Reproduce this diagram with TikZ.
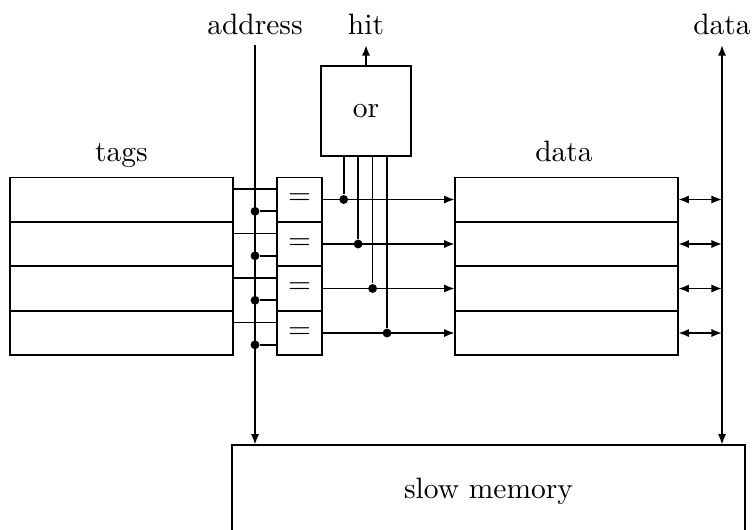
\documentclass[tikz,border=0pt]{standalone}
\usepackage{tikz}
\usetikzlibrary{positioning,arrows.meta}

\begin{document}
\begin{tikzpicture}[
    x=0.01192cm, y=0.01192cm,
    semithick,
    box/.style={draw, semithick, minimum height=0.5233cm, inner sep=0pt, outer sep=0.1pt},
    rowbox/.style={box, minimum width=2.658cm},
    cmpbox/.style={box, minimum width=0.536cm},
    dot/.style={circle, fill, inner sep=0pt, minimum size=3pt},
    arr/.style={-{Latex[length=3.6pt, width=2.8pt]}},
    biarr/.style={{Latex[length=3.6pt, width=2.8pt]}-{Latex[length=3.6pt, width=2.8pt]}},
    node distance=0pt
]

\path[use as bounding box, clip] (0,0) rectangle (752,529);

% tag store
\node[rowbox] (t1) at (121.5,329.5) {};
\node[rowbox, below=of t1] (t2) {};
\node[rowbox, below=of t2] (t3) {};
\node[rowbox, below=of t3] (t4) {};
\node[anchor=base] (tagslbl) at (121.5,368) {tags};

% comparators
\node[cmpbox] (c1) at (299.5,329.5) {$=$};
\node[cmpbox, below=of c1] (c2) {$=$};
\node[cmpbox, below=of c2] (c3) {$=$};
\node[cmpbox, below=of c3] (c4) {$=$};

% data store
\node[rowbox] (d1) at (566.5,329.5) {};
\node[rowbox, below=of d1] (d2) {};
\node[rowbox, below=of d2] (d3) {};
\node[rowbox, below=of d3] (d4) {};
\node[anchor=base] (datalbl) at (564,368) {data};

\node[box, minimum size=1.073cm] (orbox) at (366,418) {or};
\node[box, minimum width=6.115cm, minimum height=1.097cm] (mem) at (488.5,38) {slow memory};

% signals at the top
\node[anchor=base] (addrlbl) at (255,495) {address};
\node[anchor=base] (hitlbl) at (366,495) {hit};
\node[anchor=base] (buslbl) at (722,495) {data};

\draw[arr] (orbox) -- (hitlbl);
\draw[arr] (addrlbl) -- (addrlbl |- mem.north);
\draw[biarr] (buslbl |- mem.north) -- (buslbl);

% tag -> comparator
\draw ([yshift=3.6pt]t1.east) -- ([yshift=3.6pt]c1.west);
\draw ([yshift=3.6pt]t2.east) -- ([yshift=3.6pt]c2.west);
\draw ([yshift=3.6pt]t3.east) -- ([yshift=3.6pt]c3.west);
\draw ([yshift=3.6pt]t4.east) -- ([yshift=3.6pt]c4.west);

% address -> comparator
\coordinate (k1) at ([yshift=-4pt]c1.west);
\coordinate (k2) at ([yshift=-4pt]c2.west);
\coordinate (k3) at ([yshift=-4pt]c3.west);
\coordinate (k4) at ([yshift=-4pt]c4.west);
\node[dot] (a1) at (k1 -| addrlbl) {};
\node[dot] (a2) at (k2 -| addrlbl) {};
\node[dot] (a3) at (k3 -| addrlbl) {};
\node[dot] (a4) at (k4 -| addrlbl) {};
\draw (a1) -- (k1);
\draw (a2) -- (k2);
\draw (a3) -- (k3);
\draw (a4) -- (k4);

% comparator -> data, and into the or
\draw[arr] (c1) -- (d1);
\draw[arr] (c2) -- (d2);
\draw[arr] (c3) -- (d3);
\draw[arr] (c4) -- (d4);
\coordinate (in1) at ([xshift=7.8pt]orbox.south west);
\coordinate (in2) at ([xshift=12.7pt]orbox.south west);
\coordinate (in3) at ([xshift=17.6pt]orbox.south west);
\coordinate (in4) at ([xshift=22.5pt]orbox.south west);
\node[dot] (o1) at (in1 |- c1.east) {};
\node[dot] (o2) at (in2 |- c2.east) {};
\node[dot] (o3) at (in3 |- c3.east) {};
\node[dot] (o4) at (in4 |- c4.east) {};
\draw (in1) -- (o1);
\draw (in2) -- (o2);
\draw (in3) -- (o3);
\draw (in4) -- (o4);

% data <-> bus
\draw[biarr] (d1) -- (d1 -| buslbl);
\draw[biarr] (d2) -- (d2 -| buslbl);
\draw[biarr] (d3) -- (d3 -| buslbl);
\draw[biarr] (d4) -- (d4 -| buslbl);

\end{tikzpicture}
\end{document}
